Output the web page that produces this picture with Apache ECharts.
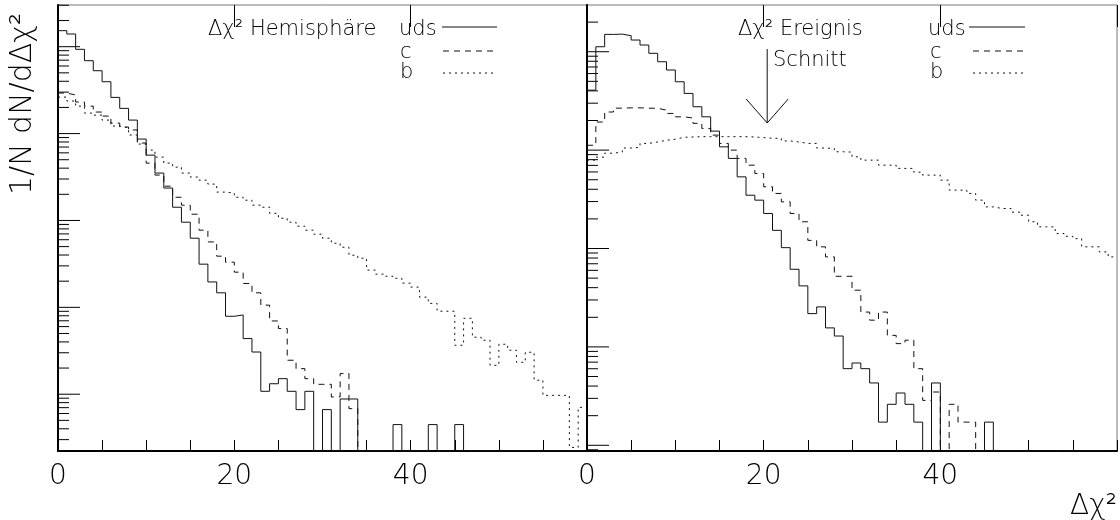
<!DOCTYPE html>
<html><head><meta charset="utf-8">
<script src="https://cdn.jsdelivr.net/npm/echarts@6/dist/echarts.min.js"></script>
<style>html,body{margin:0;padding:0;background:#fff}#c{width:1120px;height:520px}</style>
</head><body><div id="c"></div>
<script>
// bins: width 1 in Δχ², from 0 to 60
const binEdges = [0, 60];
const xTickLabels = ['0', '20', '40'];
// left panel: Δχ² Hemisphäre
const hemiUds = [0.153,0.140,0.0933,0.069,0.0529,0.0395,0.0261,0.0195,0.0143,0.00865,
  0.00565,0.00351,0.00236,0.00142,0.000955,0.000625,0.000314,0.000196,0.000147,7.89e-5,
  8.17e-5,4.37e-5,3.06e-5,1.08e-5,1.32e-5,1.51e-5,1.08e-5,6.65e-6,1.08e-5,0,
  6.65e-6,0,8.81e-6,8.81e-6,0,0,0,0,4.47e-6,0,
  0,0,4.47e-6,0,0,4.47e-6,0,0,0,0, 0,0,0,0,0,0,0,0,0,0];
const hemiC = [0.0293,0.0278,0.0231,0.0207,0.0177,0.0159,0.0132,0.0119,0.0110,0.00778,
  0.00457,0.00333,0.00248,0.00185,0.00150,0.00118,0.000773,0.000566,0.000388,0.000331,
  0.000254,0.000188,0.000147,0.000106,6.97e-5,5.70e-5,2.46e-5,1.97e-5,1.51e-5,1.30e-5,
  1.30e-5,9.29e-6,1.73e-5,6.82e-6,0,0,0,0,0,0, 0,0,0,0,0,0,0,0,0,0, 0,0,0,0,0,0,0,0,0,0];
const hemiB = [0.0263,0.0237,0.0207,0.0172,0.0163,0.0143,0.0122,0.0116,0.00962,0.00757,
  0.00646,0.00536,0.00457,0.00411,0.00351,0.00316,0.00291,0.00262,0.00212,0.00207,
  0.00185,0.00171,0.00150,0.00142,0.00121,0.00106,0.000955,0.000859,0.000773,0.000695,
  0.000625,0.000547,0.000492,0.000398,0.000368,0.000268,0.000241,0.000228,0.000216,0.000190,
  0.000171,0.000131,0.000111,9.02e-5,9.02e-5,3.66e-5,7.48e-5,4.53e-5,4.18e-5,2.15e-5,
  3.76e-5,3.21e-5,2.33e-5,3.04e-5,1.45e-5,9.7e-6,9.7e-6,9.7e-6,2.44e-6,7.06e-6];
// right panel: Δχ² Ereignis
const evUds = [0.0407,0.1124,0.150,0.151,0.1455,0.1315,0.117,0.0964,0.0791,0.0652,
  0.0495,0.0377,0.0276,0.0218,0.0156,0.0108,0.00824,0.00535,0.00348,0.00310,
  0.00227,0.00153,0.00102,0.000615,0.000417,0.000218,0.000255,0.000156,0.000129,6.01e-5,
  6.86e-5,6.01e-5,4.30e-5,1.72e-5,2.61e-5,3.40e-5,2.61e-5,1.72e-5,0,4.30e-5,
  0,0,0,0,0,1.72e-5,0,0,0,0, 0,0,0,0,0,0,0,0,0,0];
const evC = [0.0112,0.0193,0.0244,0.0267,0.0269,0.0269,0.0267,0.0266,0.0255,0.0236,
  0.0218,0.0212,0.0187,0.0166,0.0142,0.0117,0.0100,0.00824,0.00703,0.00579,
  0.00424,0.00363,0.00298,0.00227,0.00187,0.00121,0.00104,0.000822,0.000522,0.000522,
  0.000377,0.000226,0.000187,0.000226,0.000131,0.000108,0.000117,6.01e-5,2.86e-5,3.48e-5,
  0,2.61e-5,1.72e-5,1.72e-5,0,0,0,0,0,0, 0,0,0,0,0,0,0,0,0,0];
const evB = [0.00791,0.00849,0.00931,0.00955,0.0105,0.0107,0.0117,0.0121,0.0126,0.0129,
  0.0135,0.0136,0.0137,0.0137,0.0137,0.0137,0.0137,0.0137,0.0136,0.0134,
  0.0132,0.0132,0.0124,0.0121,0.0117,0.0117,0.0105,0.0104,0.00962,0.00955,
  0.00855,0.00791,0.00791,0.00703,0.00703,0.00652,0.00652,0.00597,0.00557,0.00557,
  0.00495,0.00392,0.00392,0.00363,0.00310,0.00265,0.00255,0.00255,0.00234,0.00218,
  0.00187,0.00166,0.00166,0.00142,0.00133,0.00126,0.00104,0.00104,0.000923,0.000822];
const yRangeLeft = [2.22e-6, 0.302];
const yRangeRight = [8.75e-6, 0.2985];
const cutValue = 20.4;

const FONT = 'DejaVu Sans';
const INK = '#111';

function hist(vals, floor) {
  const pts = vals.map((v, i) => [binEdges[0] + i, v > 0 ? v : floor]);
  const last = vals[vals.length - 1];
  pts.push([binEdges[1], last > 0 ? last : floor]);
  return pts;
}
function logTicks(range) {
  const out = [];
  for (let e = -7; e <= 1; e++) for (let k = 1; k <= 9; k++) {
    const v = k * Math.pow(10, e);
    if (v > range[0] && v < range[1]) out.push([0, v, k === 1 ? 1 : 0]);
  }
  return out;
}
const grids = [
  {left: 58, top: 5, width: 529, height: 446, show: true, borderColor: '#777', borderWidth: 1},
  {left: 587, top: 5, width: 530, height: 446, show: true, borderColor: '#777', borderWidth: 1}
];
function xAx(gi) {
  return [{
    type: 'value', gridIndex: gi, min: binEdges[0], max: binEdges[1], interval: 5,
    axisLine: {show: true, lineStyle: {color: '#000', width: 2}},
    axisTick: {show: true, inside: true, length: 11, lineStyle: {color: '#000'}},
    splitLine: {show: false},
    axisLabel: {show: true, margin: 12, fontFamily: FONT, fontWeight: 200, fontSize: 28, color: '#000',
      formatter: v => xTickLabels.indexOf(String(v)) >= 0 ? String(v) : ''}
  }, {
    type: 'value', gridIndex: gi, min: binEdges[0], max: binEdges[1], interval: 20,
    axisLine: {show: false}, axisLabel: {show: false}, splitLine: {show: false},
    axisTick: {show: true, inside: true, length: 22, lineStyle: {color: '#000'}}
  }];
}
function yAx(gi, r) {
  return {type: 'log', gridIndex: gi, min: r[0], max: r[1],
    axisLine: {show: true, lineStyle: {color: '#000', width: 2}},
    axisTick: {show: false}, axisLabel: {show: false}, splitLine: {show: false}, minorTick: {show: false}};
}
function tickSeries(gi, r) {
  return {type: 'custom', xAxisIndex: gi * 2, yAxisIndex: gi, silent: true, clip: false,
    data: logTicks(r), encode: {x: 0, y: 1},
    renderItem: (p, api) => {
      const pt = api.coord([0, api.value(1)]);
      const len = api.value(2) ? 22 : 11;
      return {type: 'line', shape: {x1: pt[0], y1: pt[1], x2: pt[0] + len, y2: pt[1]},
        style: {stroke: '#000', lineWidth: 1}};
    }};
}
function line(gi, vals, floor, type) {
  return {type: 'line', xAxisIndex: gi * 2, yAxisIndex: gi, step: 'end', showSymbol: false, silent: true,
    data: hist(vals, floor), lineStyle: {color: INK, width: 1, type: type}};
}
const chart = echarts.init(document.getElementById('c'), null, {renderer: 'canvas'});
const txt = (x, y, s, size, align) => ({type: 'text', x: x, y: y, silent: true,
  style: {text: s, fontFamily: FONT, fontWeight: 200, fontSize: size || 21, fill: '#000',
    textAlign: align || 'left', textVerticalAlign: 'middle'}});
const seg = (x1, y1, x2, y2, dash) => ({type: 'line', silent: true,
  shape: {x1: x1, y1: y1, x2: x2, y2: y2}, style: {stroke: INK, lineWidth: 1, lineDash: dash || null}});
chart.setOption({
  animation: false,
  grid: grids,
  xAxis: [...xAx(0), ...xAx(1)],
  yAxis: [yAx(0, yRangeLeft), yAx(1, yRangeRight)],
  series: [
    tickSeries(0, yRangeLeft), tickSeries(1, yRangeRight),
    line(0, hemiUds, yRangeLeft[0], 'solid'),
    line(0, hemiC, yRangeLeft[0], [6, 5]),
    line(0, hemiB, yRangeLeft[0], [2, 4]),
    line(1, evUds, yRangeRight[0], 'solid'),
    line(1, evC, yRangeRight[0], [6, 5]),
    line(1, evB, yRangeRight[0], [2, 4])
  ]
});
const ax = chart.convertToPixel({gridIndex: 1}, [cutValue, 0.05]);
const cx = ax[0];
chart.setOption({graphic: [
  {type: 'text', x: 23, y: 104, rotation: Math.PI / 2, silent: true,
    style: {text: '1/N dN/dΔχ²', fontFamily: FONT, fontWeight: 200, fontSize: 30, fill: '#000',
      textAlign: 'center', textVerticalAlign: 'middle'}},
  txt(208, 30, 'Δχ² Hemisphäre'),
  txt(399, 30, 'uds'), txt(400, 53, 'c'), txt(400, 73, 'b'),
  seg(442, 27, 497, 27), seg(443, 51, 497, 51, [6, 5]), seg(443, 73, 494, 73, [2, 4]),
  txt(738, 30, 'Δχ² Ereignis'),
  txt(773, 61, 'Schnitt'),
  seg(cx, 49, cx, 123), seg(cx - 21, 99, cx, 123), seg(cx, 123, cx + 21, 99),
  txt(928, 30, 'uds'), txt(930, 53, 'c'), txt(930, 73, 'b'),
  seg(969, 27, 1025, 27), seg(973, 51, 1025, 51, [6, 5]), seg(973, 73, 1023, 73, [2, 4]),
  txt(1117, 507, 'Δχ²', 28, 'right')
]});
</script></body></html>
